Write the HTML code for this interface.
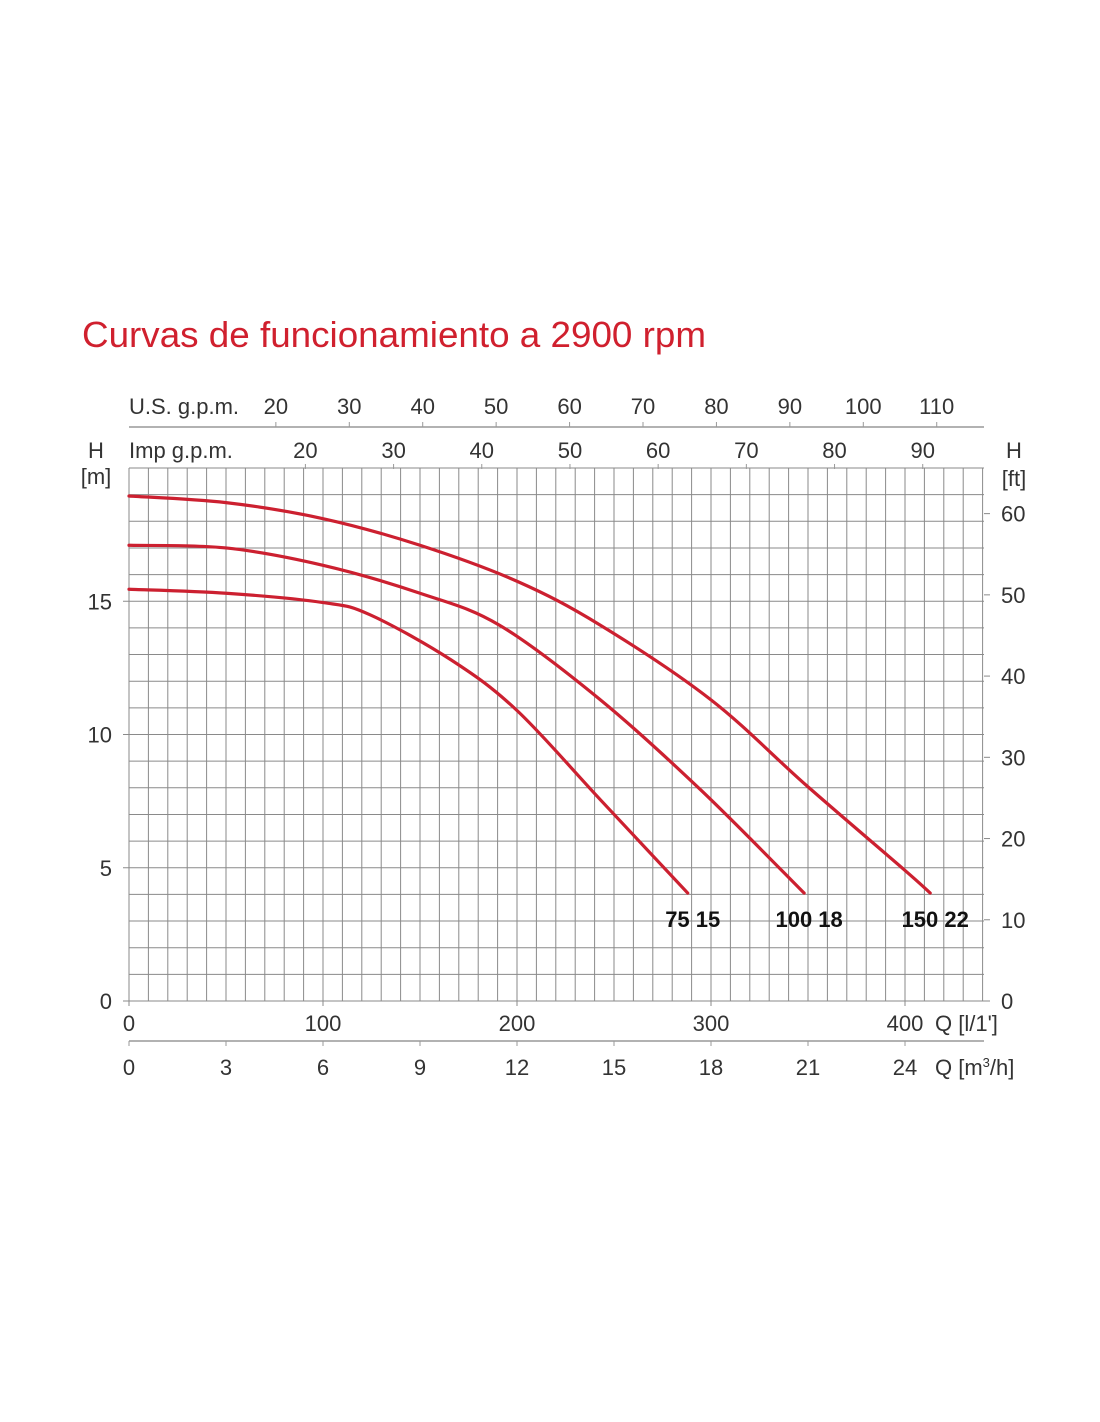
<!DOCTYPE html>
<html><head><meta charset="utf-8"><style>
html,body{margin:0;padding:0;background:#fff;}
svg{display:block;font-family:"Liberation Sans",sans-serif;}
</style></head><body>
<svg id="c" width="1100" height="1422" viewBox="0 0 1100 1422">
<text x="82" y="347" font-family="Liberation Sans Narrow, Liberation Sans, sans-serif" font-size="36" fill="#d0202e" textLength="624" lengthAdjust="spacingAndGlyphs">Curvas de funcionamiento a 2900 rpm</text>
<g id="grid"></g>
<g id="axes"></g>
<g id="curves"></g>
</svg>
<script>
const usGpmTicks=[20,30,40,50,60,70,80,90,100,110];
const impGpmTicks=[20,30,40,50,60,70,80,90];
const lminTicks=[0,100,200,300,400];
const m3hTicks=[0,3,6,9,12,15,18,21,24];
const mTicks=[0,5,10,15];
const ftTicks=[0,10,20,30,40,50,60];
const seriesNames=["75 15","100 18","150 22"];
const q7515=[0,50,100,124,166,200,243,288];
const h7515=[15.45,15.3,14.95,14.5,12.8,10.9,7.55,4.05];
const q10018=[0,50,100,150,191,243,295,348];
const h10018=[17.1,17.0,16.35,15.3,14.1,11.3,7.9,4.05];
const q15022=[0,50,100,150,200,243,300,349,400,413];
const h15022=[18.95,18.7,18.1,17.1,15.75,14.1,11.3,8.1,4.9,4.05];

const X0=129,PX=1.94,Y0=1001,PY=26.65,XMAX=984;
const xs=q=>X0+q*PX, ys=h=>Y0-h*PY;
const NS="http://www.w3.org/2000/svg";
function mk(tag,at,parent){const e=document.createElementNS(NS,tag);for(const k in at)e.setAttribute(k,at[k]);parent.appendChild(e);return e;}
const grid=document.getElementById('grid'),axes=document.getElementById('axes'),curves=document.getElementById('curves');
const gc="#8a8a8a";
for(let i=0;i<=44;i++){const x=Math.min(xs(i*10),XMAX);
 const l=mk('line',{x1:x,x2:x,y1:ys(20),y2:Y0,stroke:gc,'stroke-width':1},grid);
 
 }
for(let j=0;j<=20;j++){const y=ys(j);
 const l=mk('line',{x1:X0,x2:XMAX,y1:y,y2:y,stroke:gc,'stroke-width':1},grid);
 
 }
const tc="#333",fs=22;
function txt(s,x,y,anchor,name,extra){const t=mk('text',Object.assign({x:x,y:y,'text-anchor':anchor,'font-size':fs,fill:tc},extra||{}),axes);t.textContent=s;
 
 return t;}
// top US gpm axis
mk('line',{x1:X0,x2:XMAX,y1:427,y2:427,stroke:"#999",'stroke-width':1.5},axes);
txt("U.S. g.p.m.",129,414,'start','us-gpm-axis-title');
usGpmTicks.forEach(v=>{const x=xs(v*3.785);mk('line',{x1:x,x2:x,y1:422,y2:427,stroke:"#999"},axes);txt(String(v),x,414,'middle','us-gpm-tick-label');});
txt("Imp g.p.m.",129,458,'start','imp-gpm-axis-title');
impGpmTicks.forEach(v=>{const x=xs(v*4.546);mk('line',{x1:x,x2:x,y1:464,y2:469,stroke:"#999"},axes);txt(String(v),x,458,'middle','imp-gpm-tick-label');});
// left m axis
txt("H",96,458,'middle','left-axis-title');
txt("[m]",96,484,'middle','left-axis-unit');
mTicks.forEach(v=>{const y=ys(v);mk('line',{x1:123,x2:X0,y1:y,y2:y,stroke:gc},axes);txt(String(v),112,y+8,'end','m-tick-label');});
// right ft axis
txt("H",1014,458,'middle','right-axis-title');
txt("[ft]",1014,486,'middle','right-axis-unit');
ftTicks.forEach(v=>{const y=ys(v*0.3048);mk('line',{x1:XMAX,x2:990,y1:y,y2:y,stroke:gc},axes);txt(String(v),1001,y+8,'start','ft-tick-label');});
// bottom l/min
lminTicks.forEach(v=>{const x=xs(v);mk('line',{x1:x,x2:x,y1:Y0,y2:Y0+5,stroke:gc},axes);txt(String(v),x,1031,'middle','lmin-tick-label');});
txt("Q [l/1']",935,1031,'start','lmin-axis-title');
mk('line',{x1:X0,x2:XMAX,y1:1041,y2:1041,stroke:"#999",'stroke-width':1.5},axes);
m3hTicks.forEach(v=>{const x=xs(v*16.667);mk('line',{x1:x,x2:x,y1:1041,y2:1046,stroke:"#999"},axes);txt(String(v),x,1075,'middle','m3h-tick-label');});
const q=txt("Q [m",935,1075,'start','m3h-axis-title');
const sup=mk('tspan',{dy:-8,'font-size':13},q);sup.textContent="3";
const r=mk('tspan',{dy:8},q);r.textContent="/h]";
// curves
const data=[[q7515,h7515],[q10018,h10018],[q15022,h15022]];
data.forEach((d,i)=>{const pts=d[0].map((qq,k)=>[xs(qq),ys(d[1][k])]);
 let p="M"+pts[0][0]+","+pts[0][1];
 for(let k=0;k<pts.length-1;k++){const p0=pts[k-1]||pts[k],p1=pts[k],p2=pts[k+1],p3=pts[k+2]||p2;
  p+=" C"+(p1[0]+(p2[0]-p0[0])/6)+","+(p1[1]+(p2[1]-p0[1])/6)+" "+(p2[0]-(p3[0]-p1[0])/6)+","+(p2[1]-(p3[1]-p1[1])/6)+" "+p2[0]+","+p2[1];}
 const path=mk('path',{d:p,fill:'none',stroke:'#cc2030','stroke-width':3.2,'stroke-linecap':'round'},curves);
 
 
 const last=pts[pts.length-1];
 const t=mk('text',{x:last[0]+5,y:927,'text-anchor':'middle','font-size':22,'font-weight':'bold',fill:'#111'},curves);
 t.textContent=seriesNames[i];
 
 
});
</script>
</body></html>
